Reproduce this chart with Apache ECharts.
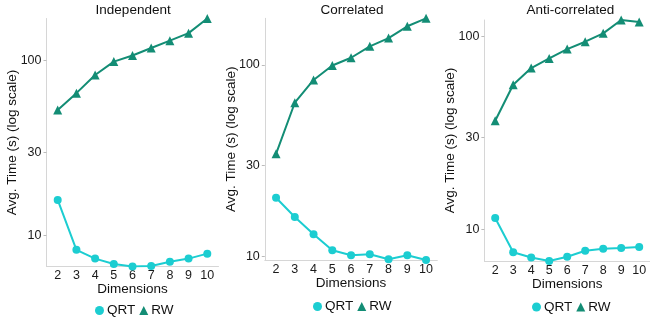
<!DOCTYPE html>
<html>
<head>
<meta charset="utf-8">
<script src="https://cdn.jsdelivr.net/npm/echarts@6/dist/echarts.min.js"></script>
<style>html,body{margin:0;padding:0;background:#fff}#c{width:650px;height:322px}</style>
</head>
<body>
<div id="c"></div>
<script>
const dims = [2, 3, 4, 5, 6, 7, 8, 9, 10];
const panelTitles = ['Independent', 'Correlated', 'Anti-correlated'];
const yTickValues = [10, 30, 100];
const seriesNames = ['QRT', 'RW'];

const qrtIndependent = [16.0, 8.3, 7.4, 6.9, 6.67, 6.72, 7.1, 7.4, 7.9];
const rwIndependent  = [52.3, 65.2, 82.7, 98.7, 107, 118, 130, 143.5, 174];
const qrtCorrelated  = [20.3, 16.1, 13.1, 10.8, 10.17, 10.29, 9.69, 10.17, 9.61];
const rwCorrelated   = [34.4, 63.5, 83.5, 99.3, 109, 125, 138, 159, 175];
const qrtAnti        = [11.5, 7.64, 7.19, 6.89, 7.25, 7.78, 7.97, 8.04, 8.13];
const rwAnti         = [36.6, 56.2, 68.6, 76.9, 86.0, 93.9, 103.7, 121.6, 118.8];

const panels = [
  {qrt: qrtIndependent, rw: rwIndependent},
  {qrt: qrtCorrelated, rw: rwCorrelated},
  {qrt: qrtAnti, rw: rwAnti}
];

const W = 650, H = 322;
const grids = [
  {left: 46.5, right: W - 218.5, top: 18.5, bottom: H - 266.5},
  {left: 264.8, right: W - 437.3, top: 18.3, bottom: H - 260},
  {left: 484.4, right: W - 657.4, top: 20, bottom: H - 261}
];
const titleLefts = [95.6, 320.4, 526.4];
const legendLefts = [95, 313, 532];
const legendTops = [303.5, 299.5, 300];

const QRT_COLOR = '#1ccdd1';
const RW_COLOR = '#138d75';
const FONT = 'Liberation Sans, Arial, sans-serif';
const AXIS_COLOR = '#d6d6d6';

const option = {
  animation: false,
  backgroundColor: '#fff',
  title: panelTitles.map((t, i) => ({
    text: t, left: titleLefts[i], top: 3, padding: 0,
    textStyle: {fontFamily: FONT, fontSize: 13.5, fontWeight: 'normal', color: '#111'}
  })),
  legend: panels.map((p, i) => ({
    left: legendLefts[i], top: legendTops[i], padding: 0,
    itemWidth: 9, itemHeight: 9, itemGap: 4,
    textStyle: {fontFamily: FONT, fontSize: 13.5, color: '#111', padding: [0, 0, 0, -2]},
    data: [{name: seriesNames[0], icon: 'circle'}, {name: seriesNames[1], icon: 'triangle'}]
  })),
  grid: grids,
  xAxis: grids.map((g, i) => ({
    type: 'value', gridIndex: i, min: 1.4, max: 10.6,
    name: 'Dimensions', nameLocation: 'middle', nameGap: 16, nameMoveOverlap: false,
    nameTextStyle: {fontFamily: FONT, fontSize: 13.5, color: '#111'},
    axisLine: {show: true, lineStyle: {color: AXIS_COLOR, width: 1}},
    axisTick: {show: false},
    splitLine: {show: false},
    axisLabel: {customValues: dims, fontFamily: FONT, fontSize: 12.5, color: '#1a1a1a', margin: 3}
  })),
  yAxis: grids.map((g, i) => ({
    type: 'log', gridIndex: i, min: 'dataMin', max: 'dataMax',
    name: 'Avg. Time (s) (log scale)', nameLocation: 'middle', nameGap: 27, nameMoveOverlap: false,
    nameTextStyle: {fontFamily: FONT, fontSize: 13.5, color: '#111'},
    axisLine: {show: true, lineStyle: {color: AXIS_COLOR, width: 1}},
    axisTick: {show: true, customValues: yTickValues, length: 3, lineStyle: {color: '#bbb'}},
    splitLine: {show: false},
    axisLabel: {customValues: yTickValues, fontFamily: FONT, fontSize: 12.5, color: '#1a1a1a', margin: 5}
  })),
  series: []
};

panels.forEach((p, i) => {
  option.series.push({
    name: seriesNames[0], type: 'line', xAxisIndex: i, yAxisIndex: i,
    data: dims.map((d, k) => [d, p.qrt[k]]),
    symbol: 'circle', symbolSize: 8,
    itemStyle: {color: QRT_COLOR}, lineStyle: {color: QRT_COLOR, width: 2}
  });
  option.series.push({
    name: seriesNames[1], type: 'line', xAxisIndex: i, yAxisIndex: i,
    data: dims.map((d, k) => [d, p.rw[k]]),
    symbol: 'triangle', symbolSize: 9,
    itemStyle: {color: RW_COLOR}, lineStyle: {color: RW_COLOR, width: 2}
  });
});

const chart = echarts.init(document.getElementById('c'), null, {renderer: 'canvas'});
chart.setOption(option);
</script>
</body>
</html>
